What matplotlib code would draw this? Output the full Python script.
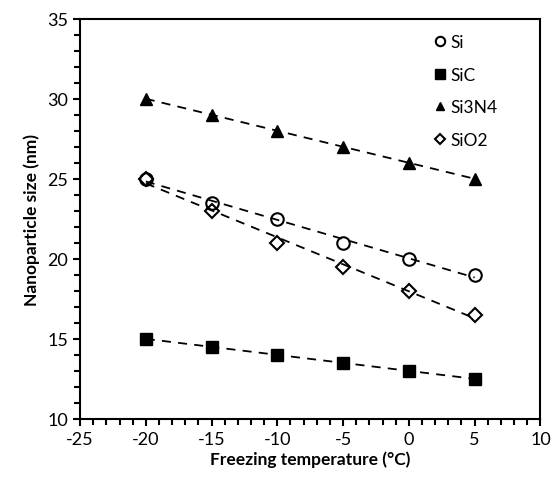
import matplotlib.pyplot as plt
import numpy as np
from matplotlib.ticker import MultipleLocator

plt.rcParams['font.family'] = ['Lato', 'DejaVu Sans']
plt.rcParams['axes.unicode_minus'] = False

temp = [-20, -15, -10, -5, 0, 5]
si = [25, 23.5, 22.5, 21, 20, 19]
sic = [15, 14.5, 14, 13.5, 13, 12.5]
si3n4 = [30, 29, 28, 27, 26, 25]
sio2 = [25, 23, 21, 19.5, 18, 16.5]

fig = plt.figure(figsize=(5.52, 4.81), dpi=100)
ax = fig.add_axes([0.145, 0.127, 0.834, 0.832])

series = [
    ("Si", si, dict(marker="o", markersize=9, markerfacecolor="none", markeredgewidth=1.5)),
    ("SiC", sic, dict(marker="s", markersize=9, markerfacecolor="black")),
    ("Si3N4", si3n4, dict(marker="^", markersize=8, markerfacecolor="black")),
    ("SiO2", sio2, dict(marker="D", markersize=7, markerfacecolor="none", markeredgewidth=1.5)),
]

x = np.array(temp)
for name, y, style in series:
    ax.plot(x, y, linestyle="none", color="black", label=name, **style)
    k, b = np.polyfit(x, y, 1)
    ax.plot(x, k * x + b, "--", color="black", lw=1.3, dashes=(5, 4))

ax.set_xlim(-25, 10)
ax.set_ylim(10, 35)
ax.xaxis.set_major_locator(MultipleLocator(5))
ax.xaxis.set_minor_locator(MultipleLocator(1))
ax.yaxis.set_major_locator(MultipleLocator(5))
ax.yaxis.set_minor_locator(MultipleLocator(1))
ax.tick_params(which="major", length=5, width=1.5, labelsize=13)
ax.tick_params(which="minor", length=4, width=1.5)
for s in ax.spines.values():
    s.set_linewidth(1.5)

ax.set_xlabel("Freezing temperature (°C)", fontsize=12.5, fontweight="bold", labelpad=3)
ax.set_ylabel("Nanoparticle size (nm)", fontsize=12.5, fontweight="bold", labelpad=5)

ax.legend(loc="upper right", frameon=False, fontsize=12.5, handletextpad=0.1,
          handlelength=1.0, labelspacing=0.95, markerscale=0.75,
          bbox_to_anchor=(0.94, 1.0))

fig.savefig("out.png", dpi=100)
